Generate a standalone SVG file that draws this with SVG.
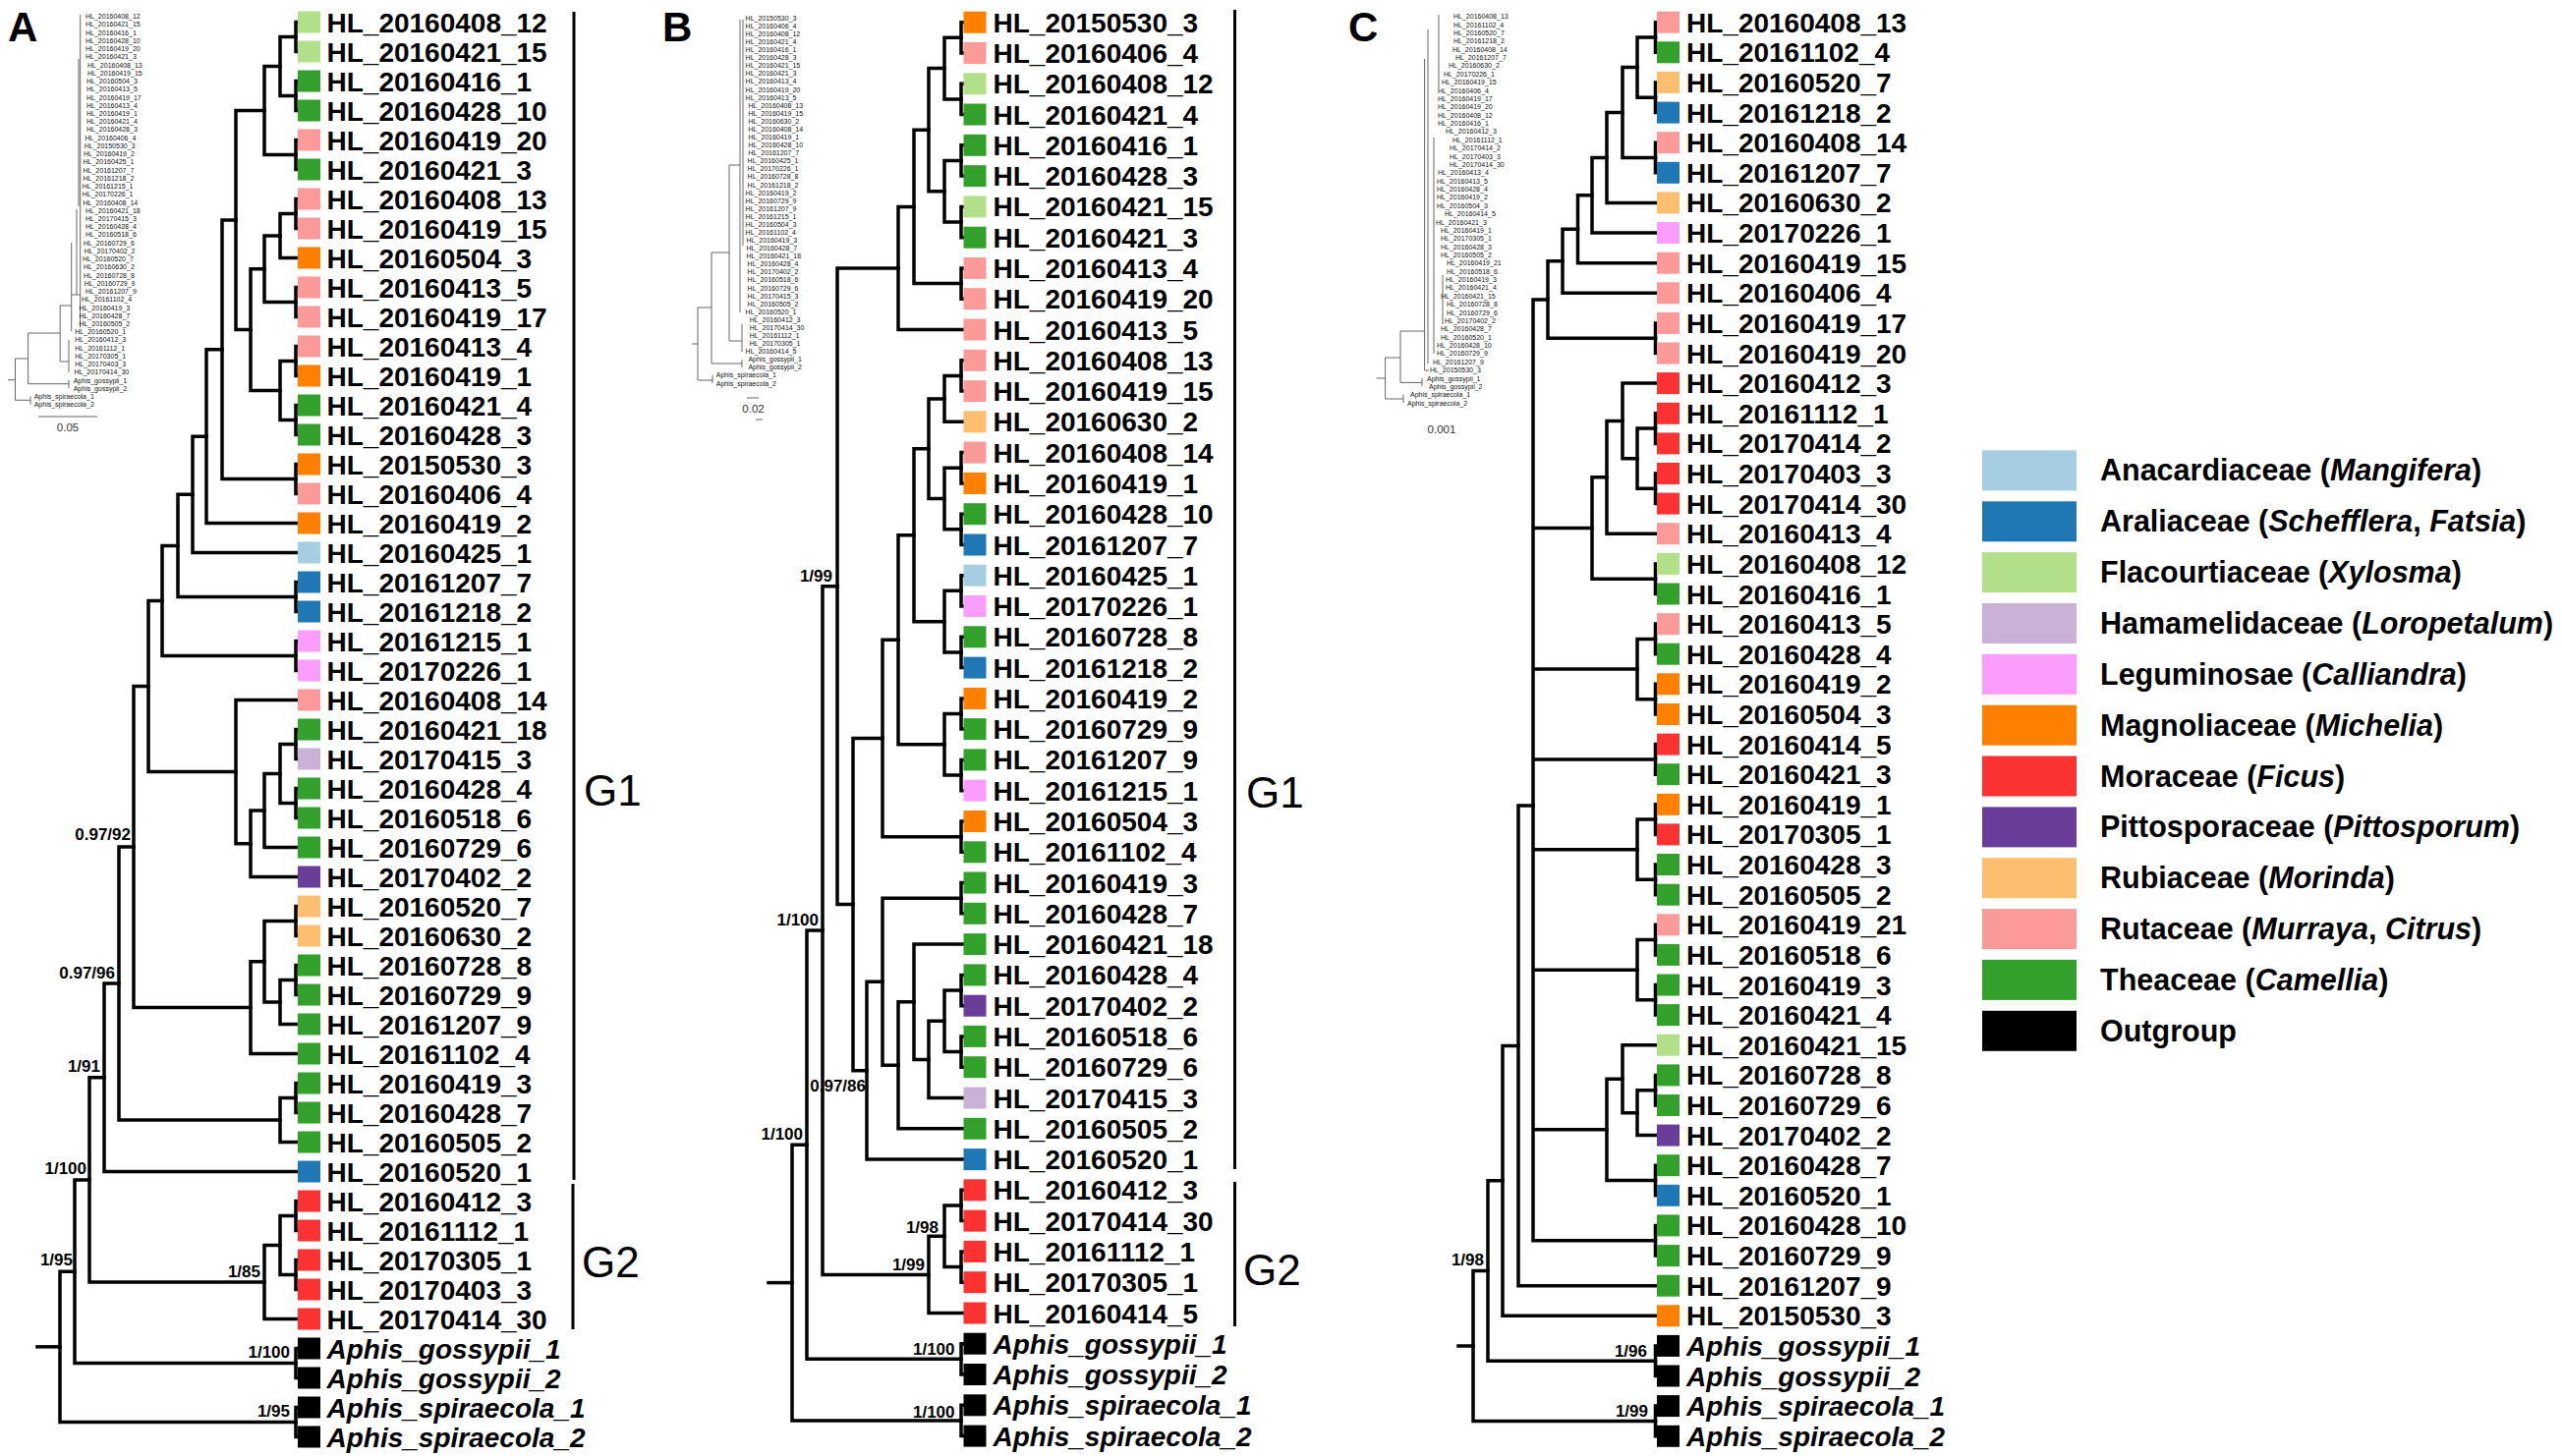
<svg xmlns="http://www.w3.org/2000/svg" width="2607" height="1482" viewBox="0 0 2607 1482">
<style>
text{font-family:"Liberation Sans",Arial,sans-serif}
.t{font-weight:bold;font-size:28px}
.i{font-style:italic}
.s{font-weight:bold;font-size:17px;text-anchor:end}
.g{font-size:44px}
.p{font-weight:bold;font-size:42px}
.n{font-size:7px;fill:#111}
.sc{font-size:11.5px;fill:#333;text-anchor:middle}
.lt{font-weight:bold;font-size:30.5px}
.br{fill:none;stroke:#000;stroke-width:3.5;stroke-linecap:square}
.bar{stroke:#000;stroke-width:3;fill:none}
.il{fill:none;stroke:#666;stroke-width:1}
.lb{fill:#a6cee3}.bl{fill:#1f78b4}.lg{fill:#b2df8a}.lv{fill:#cab2d6}.mg{fill:#fc9cfc}.or{fill:#ff7f00}.rd{fill:#fb3232}.pu{fill:#6a3d9a}.lo{fill:#fdbf6f}.pk{fill:#fb9a99}.gr{fill:#33a02c}.bk{fill:#000}
</style>
<defs>
<rect id="sq" width="23" height="22"/>
</defs>

<!-- ========== CONNECTORS ========== -->
<g id="connectors">
<g id="treeA-branches" class="br">
<path d="M303 22.5H301V52.5H303M303 82.5H301V112.5H303M303 142.5H301V172.5H303M303 202.5H301V232.5H303M303 292.5H301V322.5H303M303 352.5H301V382.5H303M303 412.5H301V442.5H303M303 472.5H301V502.5H303M303 592.5H301V622.5H303M303 652.5H301V682.5H303M303 742.5H301V772.5H303M303 802.5H301V832.5H303M303 922.5H301V952.5H303M303 982.5H301V1012.5H303M303 1102.5H301V1132.5H303M303 1222.5H301V1252.5H303M303 1282.5H301V1312.5H303M303 1372.5H301V1402.5H303M303 1432.5H301V1462.5H303"/>
<path d="M301 37.5H285V97.5H301"/>
<path d="M285 67.5H269V157.5H301"/>
<path d="M301 217.5H285V262.5H303"/>
<path d="M285 240H269V307.5H301"/>
<path d="M301 367.5H285V427.5H301"/>
<path d="M269 273.75H255V397.5H285"/>
<path d="M269 112.5H240V335.6H255"/>
<path d="M240 224.1H226V487.5H301"/>
<path d="M226 355.8H210V532.5H303"/>
<path d="M210 444.2H196V562.5H303"/>
<path d="M196 503.3H181V607.5H301"/>
<path d="M181 555.4H165V667.5H301"/>
<path d="M301 757.5H285V817.5H301"/>
<path d="M285 787.5H269V862.5H303"/>
<path d="M269 825H255V892.5H303"/>
<path d="M303 712.5H240V858.75H255"/>
<path d="M165 611.5H151V785.6H240"/>
<path d="M301 997.5H285V1042.5H303"/>
<path d="M301 937.5H269V1020H285"/>
<path d="M269 978.75H255V1072.5H303"/>
<path d="M151 698.6H136V1025.6H255"/>
<path d="M301 1117.5H285V1162.5H303"/>
<path d="M136 862.1H121V1140H285"/>
<path d="M121 1001H106V1192.5H303"/>
<path d="M301 1237.5H285V1297.5H301"/>
<path d="M285 1267.5H269V1342.5H303"/>
<path d="M106 1096.8H91V1305H269"/>
<path d="M91 1200.9H76V1387.5H301"/>
<path d="M76 1294.2H61V1447.5H301"/>
<path d="M38 1370.85H61"/>
</g>
<g id="treeB-branches" class="br">
<path d="M980.5 22.7H978V54H980.5M980.5 85.3H978V116.5H980.5M980.5 147.8H978V179.1H980.5M980.5 210.4H978V241.7H980.5M980.5 272.9H978V304.2H980.5M980.5 366.8H978V398.1H980.5M980.5 460.6H978V491.9H980.5M980.5 523.2H978V554.5H980.5M980.5 585.7H978V617H980.5M980.5 648.3H978V679.6H980.5M980.5 710.9H978V742.1H980.5M980.5 773.4H978V804.7H980.5M980.5 836H978V867.3H980.5M980.5 898.5H978V929.8H980.5M980.5 992.4H978V1023.7H980.5M980.5 1054.9H978V1086.2H980.5M980.5 1211.3H978V1242.6H980.5M980.5 1273.9H978V1305.2H980.5M980.5 1367.7H978V1399H980.5M980.5 1430.3H978V1461.6H980.5"/>
<path d="M978 38.35H961V100.9H978"/>
<path d="M978 163.45H961V226.05H978"/>
<path d="M961 69.6H945V194.75H961"/>
<path d="M945 132.2H930V288.55H978"/>
<path d="M930 210.4H914V335.5H980.5"/>
<path d="M978 382.45H961V429.3H980.5"/>
<path d="M978 476.25H961V538.85H978"/>
<path d="M961 405.9H945V507.55H961"/>
<path d="M978 601.35H961V663.95H978"/>
<path d="M945 456.7H930V632.65H961"/>
<path d="M978 726.5H961V789.05H978"/>
<path d="M930 544.7H914V757.8H961"/>
<path d="M914 651.25H898V851.65H978"/>
<path d="M978 1008.05H961V1070.55H978"/>
<path d="M961 1039.3H945V1117.5H980.5"/>
<path d="M980.5 961.1H930V1078.4H945"/>
<path d="M930 1019.75H914V1148.8H980.5"/>
<path d="M978 914.15H898V1084.3H914"/>
<path d="M898 999.2H882V1180.1H980.5"/>
<path d="M898 751.45H868V1089.65H882"/>
<path d="M914 273H852V920.55H868"/>
<path d="M978 1226.95H961V1289.55H978"/>
<path d="M961 1258.25H945V1336.5H980.5"/>
<path d="M852 596.8H837V1297.4H945"/>
<path d="M837 947.1H821V1383.35H978"/>
<path d="M821 1165.2H806V1445.95H978"/>
<path d="M782 1305.6H806"/>
</g>
<g id="treeC-branches" class="br">
<path d="M1686 22.7H1684.5V53.3H1686M1686 83.9H1684.5V114.6H1686M1686 145.2H1684.5V175.8H1686M1686 328.9H1684.5V359.5H1686M1686 420.8H1684.5V451.4H1686M1686 482H1684.5V512.6H1686M1686 573.9H1684.5V604.5H1686M1686 635.1H1684.5V665.7H1686M1686 696.3H1684.5V727H1686M1686 757.6H1684.5V788.2H1686M1686 818.8H1684.5V849.4H1686M1686 880H1684.5V910.7H1686M1686 941.3H1684.5V971.9H1686M1686 1002.5H1684.5V1033.1H1686M1686 1094.4H1684.5V1125H1686M1686 1186.2H1684.5V1216.8H1686M1686 1247.4H1684.5V1278.1H1686M1686 1369.9H1684.5V1400.5H1686M1686 1431.1H1684.5V1461.8H1686"/>
<path d="M1684.5 38H1666V99.25H1684.5"/>
<path d="M1666 68.6H1651V160.5H1684.5"/>
<path d="M1651 114.55H1635V206.4H1686"/>
<path d="M1635 160.5H1620V237H1686"/>
<path d="M1620 198.75H1605.5V267.7H1686"/>
<path d="M1605.5 233.2H1590V298.3H1686"/>
<path d="M1590 265.75H1575V344.2H1684.5"/>
<path d="M1684.5 436.1H1666V497.3H1684.5"/>
<path d="M1686 390.1H1651V466.7H1666"/>
<path d="M1651 428.4H1635V543.2H1686"/>
<path d="M1635 485.8H1620V589.2H1684.5"/>
<path d="M1684.5 650.4H1666V711.65H1684.5"/>
<path d="M1684.5 834.1H1666V895.35H1684.5"/>
<path d="M1684.5 956.6H1666V1017.8H1684.5"/>
<path d="M1684.5 1109.7H1666V1155.6H1686"/>
<path d="M1686 1063.7H1651V1132.65H1666"/>
<path d="M1651 1098.2H1635V1201.5H1684.5"/>
<path d="M1560 305V1262.75M1560 305H1575M1560 537.5H1620M1560 681H1666M1560 772.9H1684.5M1560 864.7H1666M1560 987.2H1666M1560 1149.85H1635M1560 1262.75H1684.5"/>
<path d="M1560 820.1H1545V1308.7H1686"/>
<path d="M1545 1064.4H1529V1339.3H1686"/>
<path d="M1529 1201.85H1514V1385.2H1684.5"/>
<path d="M1514 1293.5H1499V1446.45H1684.5"/>
<path d="M1484 1370H1499"/>
</g>
<g id="group-bars" class="bar">
<path d="M584 12V1201M583 1205V1353"/>
<path d="M1256.5 10V1190M1256.5 1203V1350"/>
</g>
</g>

<!-- ========== PANEL LETTERS, SUPPORT VALUES, GROUP LABELS ========== -->
<g id="panel-labels">
<text class="p" x="8" y="41.7">A</text>
<text class="p" x="674" y="41.7">B</text>
<text class="p" x="1372" y="41.7">C</text>
</g>
<g id="supportA">
<text class="s" x="133" y="855">0.97/92</text>
<text class="s" x="117" y="996">0.97/96</text>
<text class="s" x="102" y="1091">1/91</text>
<text class="s" x="88" y="1195">1/100</text>
<text class="s" x="74" y="1288">1/95</text>
<text class="s" x="265" y="1300">1/85</text>
<text class="s" x="295" y="1382">1/100</text>
<text class="s" x="295" y="1442">1/95</text>
</g>
<g id="supportB">
<text class="s" x="847" y="592">1/99</text>
<text class="s" x="833" y="942">1/100</text>
<text class="s" x="881" y="1111">0.97/86</text>
<text class="s" x="817" y="1160">1/100</text>
<text class="s" x="955" y="1255">1/98</text>
<text class="s" x="941" y="1293">1/99</text>
<text class="s" x="971.5" y="1379">1/100</text>
<text class="s" x="971.5" y="1443">1/100</text>
</g>
<g id="supportC">
<text class="s" x="1510" y="1288">1/98</text>
<text class="s" x="1676" y="1381">1/96</text>
<text class="s" x="1677" y="1442">1/99</text>
</g>
<g id="groups">
<text id="A-G1" class="g" x="594" y="820">G1</text>
<text id="A-G2" class="g" x="592" y="1300">G2</text>
<text id="B-G1" class="g" x="1268" y="822">G1</text>
<text id="B-G2" class="g" x="1265" y="1308">G2</text>
</g>

<!-- ========== PANEL A LEAVES ========== -->
<g id="leavesA">
<g id="A01"><use href="#sq" class="lg" x="303" y="11.5"/><text class="t" x="332.5" y="32.5">HL_20160408_12</text></g>
<g id="A02"><use href="#sq" class="lg" x="303" y="41.5"/><text class="t" x="332.5" y="62.5">HL_20160421_15</text></g>
<g id="A03"><use href="#sq" class="gr" x="303" y="71.5"/><text class="t" x="332.5" y="92.5">HL_20160416_1</text></g>
<g id="A04"><use href="#sq" class="gr" x="303" y="101.5"/><text class="t" x="332.5" y="122.5">HL_20160428_10</text></g>
<g id="A05"><use href="#sq" class="pk" x="303" y="131.5"/><text class="t" x="332.5" y="152.5">HL_20160419_20</text></g>
<g id="A06"><use href="#sq" class="gr" x="303" y="161.5"/><text class="t" x="332.5" y="182.5">HL_20160421_3</text></g>
<g id="A07"><use href="#sq" class="pk" x="303" y="191.5"/><text class="t" x="332.5" y="212.5">HL_20160408_13</text></g>
<g id="A08"><use href="#sq" class="pk" x="303" y="221.5"/><text class="t" x="332.5" y="242.5">HL_20160419_15</text></g>
<g id="A09"><use href="#sq" class="or" x="303" y="251.5"/><text class="t" x="332.5" y="272.5">HL_20160504_3</text></g>
<g id="A10"><use href="#sq" class="pk" x="303" y="281.5"/><text class="t" x="332.5" y="302.5">HL_20160413_5</text></g>
<g id="A11"><use href="#sq" class="pk" x="303" y="311.5"/><text class="t" x="332.5" y="332.5">HL_20160419_17</text></g>
<g id="A12"><use href="#sq" class="pk" x="303" y="341.5"/><text class="t" x="332.5" y="362.5">HL_20160413_4</text></g>
<g id="A13"><use href="#sq" class="or" x="303" y="371.5"/><text class="t" x="332.5" y="392.5">HL_20160419_1</text></g>
<g id="A14"><use href="#sq" class="gr" x="303" y="401.5"/><text class="t" x="332.5" y="422.5">HL_20160421_4</text></g>
<g id="A15"><use href="#sq" class="gr" x="303" y="431.5"/><text class="t" x="332.5" y="452.5">HL_20160428_3</text></g>
<g id="A16"><use href="#sq" class="or" x="303" y="461.5"/><text class="t" x="332.5" y="482.5">HL_20150530_3</text></g>
<g id="A17"><use href="#sq" class="pk" x="303" y="491.5"/><text class="t" x="332.5" y="512.5">HL_20160406_4</text></g>
<g id="A18"><use href="#sq" class="or" x="303" y="521.5"/><text class="t" x="332.5" y="542.5">HL_20160419_2</text></g>
<g id="A19"><use href="#sq" class="lb" x="303" y="551.5"/><text class="t" x="332.5" y="572.5">HL_20160425_1</text></g>
<g id="A20"><use href="#sq" class="bl" x="303" y="581.5"/><text class="t" x="332.5" y="602.5">HL_20161207_7</text></g>
<g id="A21"><use href="#sq" class="bl" x="303" y="611.5"/><text class="t" x="332.5" y="632.5">HL_20161218_2</text></g>
<g id="A22"><use href="#sq" class="mg" x="303" y="641.5"/><text class="t" x="332.5" y="662.5">HL_20161215_1</text></g>
<g id="A23"><use href="#sq" class="mg" x="303" y="671.5"/><text class="t" x="332.5" y="692.5">HL_20170226_1</text></g>
<g id="A24"><use href="#sq" class="pk" x="303" y="701.5"/><text class="t" x="332.5" y="722.5">HL_20160408_14</text></g>
<g id="A25"><use href="#sq" class="gr" x="303" y="731.5"/><text class="t" x="332.5" y="752.5">HL_20160421_18</text></g>
<g id="A26"><use href="#sq" class="lv" x="303" y="761.5"/><text class="t" x="332.5" y="782.5">HL_20170415_3</text></g>
<g id="A27"><use href="#sq" class="gr" x="303" y="791.5"/><text class="t" x="332.5" y="812.5">HL_20160428_4</text></g>
<g id="A28"><use href="#sq" class="gr" x="303" y="821.5"/><text class="t" x="332.5" y="842.5">HL_20160518_6</text></g>
<g id="A29"><use href="#sq" class="gr" x="303" y="851.5"/><text class="t" x="332.5" y="872.5">HL_20160729_6</text></g>
<g id="A30"><use href="#sq" class="pu" x="303" y="881.5"/><text class="t" x="332.5" y="902.5">HL_20170402_2</text></g>
<g id="A31"><use href="#sq" class="lo" x="303" y="911.5"/><text class="t" x="332.5" y="932.5">HL_20160520_7</text></g>
<g id="A32"><use href="#sq" class="lo" x="303" y="941.5"/><text class="t" x="332.5" y="962.5">HL_20160630_2</text></g>
<g id="A33"><use href="#sq" class="gr" x="303" y="971.5"/><text class="t" x="332.5" y="992.5">HL_20160728_8</text></g>
<g id="A34"><use href="#sq" class="gr" x="303" y="1001.5"/><text class="t" x="332.5" y="1022.5">HL_20160729_9</text></g>
<g id="A35"><use href="#sq" class="gr" x="303" y="1031.5"/><text class="t" x="332.5" y="1052.5">HL_20161207_9</text></g>
<g id="A36"><use href="#sq" class="gr" x="303" y="1061.5"/><text class="t" x="332.5" y="1082.5">HL_20161102_4</text></g>
<g id="A37"><use href="#sq" class="gr" x="303" y="1091.5"/><text class="t" x="332.5" y="1112.5">HL_20160419_3</text></g>
<g id="A38"><use href="#sq" class="gr" x="303" y="1121.5"/><text class="t" x="332.5" y="1142.5">HL_20160428_7</text></g>
<g id="A39"><use href="#sq" class="gr" x="303" y="1151.5"/><text class="t" x="332.5" y="1172.5">HL_20160505_2</text></g>
<g id="A40"><use href="#sq" class="bl" x="303" y="1181.5"/><text class="t" x="332.5" y="1202.5">HL_20160520_1</text></g>
<g id="A41"><use href="#sq" class="rd" x="303" y="1211.5"/><text class="t" x="332.5" y="1232.5">HL_20160412_3</text></g>
<g id="A42"><use href="#sq" class="rd" x="303" y="1241.5"/><text class="t" x="332.5" y="1262.5">HL_20161112_1</text></g>
<g id="A43"><use href="#sq" class="rd" x="303" y="1271.5"/><text class="t" x="332.5" y="1292.5">HL_20170305_1</text></g>
<g id="A44"><use href="#sq" class="rd" x="303" y="1301.5"/><text class="t" x="332.5" y="1322.5">HL_20170403_3</text></g>
<g id="A45"><use href="#sq" class="rd" x="303" y="1331.5"/><text class="t" x="332.5" y="1352.5">HL_20170414_30</text></g>
<g id="A46"><use href="#sq" class="bk" x="303" y="1361.5"/><text class="t i" x="332.5" y="1382.5">Aphis_gossypii_1</text></g>
<g id="A47"><use href="#sq" class="bk" x="303" y="1391.5"/><text class="t i" x="332.5" y="1412.5">Aphis_gossypii_2</text></g>
<g id="A48"><use href="#sq" class="bk" x="303" y="1421.5"/><text class="t i" x="332.5" y="1442.5">Aphis_spiraecola_1</text></g>
<g id="A49"><use href="#sq" class="bk" x="303" y="1451.5"/><text class="t i" x="332.5" y="1472.5">Aphis_spiraecola_2</text></g>
</g>

<!-- ========== PANEL B LEAVES ========== -->
<g id="leavesB">
<g id="B01"><use href="#sq" class="or" x="980.5" y="11.7"/><text class="t" x="1010.5" y="32.7">HL_20150530_3</text></g>
<g id="B02"><use href="#sq" class="pk" x="980.5" y="43"/><text class="t" x="1010.5" y="64">HL_20160406_4</text></g>
<g id="B03"><use href="#sq" class="lg" x="980.5" y="74.3"/><text class="t" x="1010.5" y="95.3">HL_20160408_12</text></g>
<g id="B04"><use href="#sq" class="gr" x="980.5" y="105.5"/><text class="t" x="1010.5" y="126.5">HL_20160421_4</text></g>
<g id="B05"><use href="#sq" class="gr" x="980.5" y="136.8"/><text class="t" x="1010.5" y="157.8">HL_20160416_1</text></g>
<g id="B06"><use href="#sq" class="gr" x="980.5" y="168.1"/><text class="t" x="1010.5" y="189.1">HL_20160428_3</text></g>
<g id="B07"><use href="#sq" class="lg" x="980.5" y="199.4"/><text class="t" x="1010.5" y="220.4">HL_20160421_15</text></g>
<g id="B08"><use href="#sq" class="gr" x="980.5" y="230.7"/><text class="t" x="1010.5" y="251.7">HL_20160421_3</text></g>
<g id="B09"><use href="#sq" class="pk" x="980.5" y="261.9"/><text class="t" x="1010.5" y="282.9">HL_20160413_4</text></g>
<g id="B10"><use href="#sq" class="pk" x="980.5" y="293.2"/><text class="t" x="1010.5" y="314.2">HL_20160419_20</text></g>
<g id="B11"><use href="#sq" class="pk" x="980.5" y="324.5"/><text class="t" x="1010.5" y="345.5">HL_20160413_5</text></g>
<g id="B12"><use href="#sq" class="pk" x="980.5" y="355.8"/><text class="t" x="1010.5" y="376.8">HL_20160408_13</text></g>
<g id="B13"><use href="#sq" class="pk" x="980.5" y="387.1"/><text class="t" x="1010.5" y="408.1">HL_20160419_15</text></g>
<g id="B14"><use href="#sq" class="lo" x="980.5" y="418.3"/><text class="t" x="1010.5" y="439.3">HL_20160630_2</text></g>
<g id="B15"><use href="#sq" class="pk" x="980.5" y="449.6"/><text class="t" x="1010.5" y="470.6">HL_20160408_14</text></g>
<g id="B16"><use href="#sq" class="or" x="980.5" y="480.9"/><text class="t" x="1010.5" y="501.9">HL_20160419_1</text></g>
<g id="B17"><use href="#sq" class="gr" x="980.5" y="512.2"/><text class="t" x="1010.5" y="533.2">HL_20160428_10</text></g>
<g id="B18"><use href="#sq" class="bl" x="980.5" y="543.5"/><text class="t" x="1010.5" y="564.5">HL_20161207_7</text></g>
<g id="B19"><use href="#sq" class="lb" x="980.5" y="574.7"/><text class="t" x="1010.5" y="595.7">HL_20160425_1</text></g>
<g id="B20"><use href="#sq" class="mg" x="980.5" y="606"/><text class="t" x="1010.5" y="627">HL_20170226_1</text></g>
<g id="B21"><use href="#sq" class="gr" x="980.5" y="637.3"/><text class="t" x="1010.5" y="658.3">HL_20160728_8</text></g>
<g id="B22"><use href="#sq" class="bl" x="980.5" y="668.6"/><text class="t" x="1010.5" y="689.6">HL_20161218_2</text></g>
<g id="B23"><use href="#sq" class="or" x="980.5" y="699.9"/><text class="t" x="1010.5" y="720.9">HL_20160419_2</text></g>
<g id="B24"><use href="#sq" class="gr" x="980.5" y="731.1"/><text class="t" x="1010.5" y="752.1">HL_20160729_9</text></g>
<g id="B25"><use href="#sq" class="gr" x="980.5" y="762.4"/><text class="t" x="1010.5" y="783.4">HL_20161207_9</text></g>
<g id="B26"><use href="#sq" class="mg" x="980.5" y="793.7"/><text class="t" x="1010.5" y="814.7">HL_20161215_1</text></g>
<g id="B27"><use href="#sq" class="or" x="980.5" y="825"/><text class="t" x="1010.5" y="846">HL_20160504_3</text></g>
<g id="B28"><use href="#sq" class="gr" x="980.5" y="856.3"/><text class="t" x="1010.5" y="877.3">HL_20161102_4</text></g>
<g id="B29"><use href="#sq" class="gr" x="980.5" y="887.5"/><text class="t" x="1010.5" y="908.5">HL_20160419_3</text></g>
<g id="B30"><use href="#sq" class="gr" x="980.5" y="918.8"/><text class="t" x="1010.5" y="939.8">HL_20160428_7</text></g>
<g id="B31"><use href="#sq" class="gr" x="980.5" y="950.1"/><text class="t" x="1010.5" y="971.1">HL_20160421_18</text></g>
<g id="B32"><use href="#sq" class="gr" x="980.5" y="981.4"/><text class="t" x="1010.5" y="1002.4">HL_20160428_4</text></g>
<g id="B33"><use href="#sq" class="pu" x="980.5" y="1012.7"/><text class="t" x="1010.5" y="1033.7">HL_20170402_2</text></g>
<g id="B34"><use href="#sq" class="gr" x="980.5" y="1043.9"/><text class="t" x="1010.5" y="1064.9">HL_20160518_6</text></g>
<g id="B35"><use href="#sq" class="gr" x="980.5" y="1075.2"/><text class="t" x="1010.5" y="1096.2">HL_20160729_6</text></g>
<g id="B36"><use href="#sq" class="lv" x="980.5" y="1106.5"/><text class="t" x="1010.5" y="1127.5">HL_20170415_3</text></g>
<g id="B37"><use href="#sq" class="gr" x="980.5" y="1137.8"/><text class="t" x="1010.5" y="1158.8">HL_20160505_2</text></g>
<g id="B38"><use href="#sq" class="bl" x="980.5" y="1169.1"/><text class="t" x="1010.5" y="1190.1">HL_20160520_1</text></g>
<g id="B39"><use href="#sq" class="rd" x="980.5" y="1200.3"/><text class="t" x="1010.5" y="1221.3">HL_20160412_3</text></g>
<g id="B40"><use href="#sq" class="rd" x="980.5" y="1231.6"/><text class="t" x="1010.5" y="1252.6">HL_20170414_30</text></g>
<g id="B41"><use href="#sq" class="rd" x="980.5" y="1262.9"/><text class="t" x="1010.5" y="1283.9">HL_20161112_1</text></g>
<g id="B42"><use href="#sq" class="rd" x="980.5" y="1294.2"/><text class="t" x="1010.5" y="1315.2">HL_20170305_1</text></g>
<g id="B43"><use href="#sq" class="rd" x="980.5" y="1325.5"/><text class="t" x="1010.5" y="1346.5">HL_20160414_5</text></g>
<g id="B44"><use href="#sq" class="bk" x="980.5" y="1356.7"/><text class="t i" x="1010.5" y="1377.7">Aphis_gossypii_1</text></g>
<g id="B45"><use href="#sq" class="bk" x="980.5" y="1388"/><text class="t i" x="1010.5" y="1409">Aphis_gossypii_2</text></g>
<g id="B46"><use href="#sq" class="bk" x="980.5" y="1419.3"/><text class="t i" x="1010.5" y="1440.3">Aphis_spiraecola_1</text></g>
<g id="B47"><use href="#sq" class="bk" x="980.5" y="1450.6"/><text class="t i" x="1010.5" y="1471.6">Aphis_spiraecola_2</text></g>
</g>

<!-- ========== PANEL C LEAVES ========== -->
<g id="leavesC">
<g id="C01"><use href="#sq" class="pk" x="1686" y="11.7"/><text class="t" x="1716" y="32.7">HL_20160408_13</text></g>
<g id="C02"><use href="#sq" class="gr" x="1686" y="42.3"/><text class="t" x="1716" y="63.3">HL_20161102_4</text></g>
<g id="C03"><use href="#sq" class="lo" x="1686" y="72.9"/><text class="t" x="1716" y="93.9">HL_20160520_7</text></g>
<g id="C04"><use href="#sq" class="bl" x="1686" y="103.6"/><text class="t" x="1716" y="124.6">HL_20161218_2</text></g>
<g id="C05"><use href="#sq" class="pk" x="1686" y="134.2"/><text class="t" x="1716" y="155.2">HL_20160408_14</text></g>
<g id="C06"><use href="#sq" class="bl" x="1686" y="164.8"/><text class="t" x="1716" y="185.8">HL_20161207_7</text></g>
<g id="C07"><use href="#sq" class="lo" x="1686" y="195.4"/><text class="t" x="1716" y="216.4">HL_20160630_2</text></g>
<g id="C08"><use href="#sq" class="mg" x="1686" y="226"/><text class="t" x="1716" y="247">HL_20170226_1</text></g>
<g id="C09"><use href="#sq" class="pk" x="1686" y="256.7"/><text class="t" x="1716" y="277.7">HL_20160419_15</text></g>
<g id="C10"><use href="#sq" class="pk" x="1686" y="287.3"/><text class="t" x="1716" y="308.3">HL_20160406_4</text></g>
<g id="C11"><use href="#sq" class="pk" x="1686" y="317.9"/><text class="t" x="1716" y="338.9">HL_20160419_17</text></g>
<g id="C12"><use href="#sq" class="pk" x="1686" y="348.5"/><text class="t" x="1716" y="369.5">HL_20160419_20</text></g>
<g id="C13"><use href="#sq" class="rd" x="1686" y="379.1"/><text class="t" x="1716" y="400.1">HL_20160412_3</text></g>
<g id="C14"><use href="#sq" class="rd" x="1686" y="409.8"/><text class="t" x="1716" y="430.8">HL_20161112_1</text></g>
<g id="C15"><use href="#sq" class="rd" x="1686" y="440.4"/><text class="t" x="1716" y="461.4">HL_20170414_2</text></g>
<g id="C16"><use href="#sq" class="rd" x="1686" y="471"/><text class="t" x="1716" y="492">HL_20170403_3</text></g>
<g id="C17"><use href="#sq" class="rd" x="1686" y="501.6"/><text class="t" x="1716" y="522.6">HL_20170414_30</text></g>
<g id="C18"><use href="#sq" class="pk" x="1686" y="532.2"/><text class="t" x="1716" y="553.2">HL_20160413_4</text></g>
<g id="C19"><use href="#sq" class="lg" x="1686" y="562.9"/><text class="t" x="1716" y="583.9">HL_20160408_12</text></g>
<g id="C20"><use href="#sq" class="gr" x="1686" y="593.5"/><text class="t" x="1716" y="614.5">HL_20160416_1</text></g>
<g id="C21"><use href="#sq" class="pk" x="1686" y="624.1"/><text class="t" x="1716" y="645.1">HL_20160413_5</text></g>
<g id="C22"><use href="#sq" class="gr" x="1686" y="654.7"/><text class="t" x="1716" y="675.7">HL_20160428_4</text></g>
<g id="C23"><use href="#sq" class="or" x="1686" y="685.3"/><text class="t" x="1716" y="706.3">HL_20160419_2</text></g>
<g id="C24"><use href="#sq" class="or" x="1686" y="716"/><text class="t" x="1716" y="737">HL_20160504_3</text></g>
<g id="C25"><use href="#sq" class="rd" x="1686" y="746.6"/><text class="t" x="1716" y="767.6">HL_20160414_5</text></g>
<g id="C26"><use href="#sq" class="gr" x="1686" y="777.2"/><text class="t" x="1716" y="798.2">HL_20160421_3</text></g>
<g id="C27"><use href="#sq" class="or" x="1686" y="807.8"/><text class="t" x="1716" y="828.8">HL_20160419_1</text></g>
<g id="C28"><use href="#sq" class="rd" x="1686" y="838.4"/><text class="t" x="1716" y="859.4">HL_20170305_1</text></g>
<g id="C29"><use href="#sq" class="gr" x="1686" y="869"/><text class="t" x="1716" y="890">HL_20160428_3</text></g>
<g id="C30"><use href="#sq" class="gr" x="1686" y="899.7"/><text class="t" x="1716" y="920.7">HL_20160505_2</text></g>
<g id="C31"><use href="#sq" class="pk" x="1686" y="930.3"/><text class="t" x="1716" y="951.3">HL_20160419_21</text></g>
<g id="C32"><use href="#sq" class="gr" x="1686" y="960.9"/><text class="t" x="1716" y="981.9">HL_20160518_6</text></g>
<g id="C33"><use href="#sq" class="gr" x="1686" y="991.5"/><text class="t" x="1716" y="1012.5">HL_20160419_3</text></g>
<g id="C34"><use href="#sq" class="gr" x="1686" y="1022.1"/><text class="t" x="1716" y="1043.1">HL_20160421_4</text></g>
<g id="C35"><use href="#sq" class="lg" x="1686" y="1052.7"/><text class="t" x="1716" y="1073.7">HL_20160421_15</text></g>
<g id="C36"><use href="#sq" class="gr" x="1686" y="1083.4"/><text class="t" x="1716" y="1104.4">HL_20160728_8</text></g>
<g id="C37"><use href="#sq" class="gr" x="1686" y="1114"/><text class="t" x="1716" y="1135">HL_20160729_6</text></g>
<g id="C38"><use href="#sq" class="pu" x="1686" y="1144.6"/><text class="t" x="1716" y="1165.6">HL_20170402_2</text></g>
<g id="C39"><use href="#sq" class="gr" x="1686" y="1175.2"/><text class="t" x="1716" y="1196.2">HL_20160428_7</text></g>
<g id="C40"><use href="#sq" class="bl" x="1686" y="1205.8"/><text class="t" x="1716" y="1226.8">HL_20160520_1</text></g>
<g id="C41"><use href="#sq" class="gr" x="1686" y="1236.4"/><text class="t" x="1716" y="1257.4">HL_20160428_10</text></g>
<g id="C42"><use href="#sq" class="gr" x="1686" y="1267.1"/><text class="t" x="1716" y="1288.1">HL_20160729_9</text></g>
<g id="C43"><use href="#sq" class="gr" x="1686" y="1297.7"/><text class="t" x="1716" y="1318.7">HL_20161207_9</text></g>
<g id="C44"><use href="#sq" class="or" x="1686" y="1328.3"/><text class="t" x="1716" y="1349.3">HL_20150530_3</text></g>
<g id="C45"><use href="#sq" class="bk" x="1686" y="1358.9"/><text class="t i" x="1716" y="1379.9">Aphis_gossypii_1</text></g>
<g id="C46"><use href="#sq" class="bk" x="1686" y="1389.5"/><text class="t i" x="1716" y="1410.5">Aphis_gossypii_2</text></g>
<g id="C47"><use href="#sq" class="bk" x="1686" y="1420.1"/><text class="t i" x="1716" y="1441.1">Aphis_spiraecola_1</text></g>
<g id="C48"><use href="#sq" class="bk" x="1686" y="1450.8"/><text class="t i" x="1716" y="1471.8">Aphis_spiraecola_2</text></g>
</g>

<!-- ========== INSET TREES ========== -->
<g id="insetA">
<path class="il" d="M8 386.7H15.5M15.5 365V407.3M15.5 407.3H31M31 403.5V411.7M15.5 365H28.6M28.6 339V390.7M28.6 390.7H70M70 387V395.3M28.6 339H61.2M61.2 311V368M61.2 368H70M70 346V379M61.2 311H72.7M72.7 247V337M72.7 300H81.7M81.7 15V333M78 213V300M80 60V210"/>
<path class="il" d="M39 424H99"/>
<text class="sc" x="69" y="439">0.05</text>
<g class="n">
<text x="87" y="19.2">HL_20160408_12</text><text x="87" y="27.4">HL_20160421_15</text><text x="87" y="35.7">HL_20160416_1</text><text x="87" y="43.9">HL_20160428_10</text><text x="87" y="52.1">HL_20160419_20</text><text x="87" y="60.4">HL_20160421_3</text><text x="89" y="68.6">HL_20160408_13</text><text x="89" y="76.8">HL_20160419_15</text><text x="88" y="85">HL_20160504_3</text><text x="88" y="93.3">HL_20160413_5</text><text x="88" y="101.5">HL_20160419_17</text><text x="88" y="109.7">HL_20160413_4</text><text x="88" y="118">HL_20160419_1</text><text x="88" y="126.2">HL_20160421_4</text><text x="88" y="134.4">HL_20160428_3</text><text x="86.5" y="142.7">HL_20160406_4</text><text x="85.7" y="150.9">HL_20150530_3</text><text x="85" y="159.1">HL_20160419_2</text><text x="84.5" y="167.3">HL_20160425_1</text><text x="84.5" y="175.6">HL_20161207_7</text><text x="84.5" y="183.8">HL_20161218_2</text><text x="83.7" y="192">HL_20161215_1</text><text x="83.7" y="200.3">HL_20170226_1</text><text x="84.5" y="208.5">HL_20160408_14</text><text x="87" y="216.7">HL_20160421_18</text><text x="87" y="224.9">HL_20170415_3</text><text x="87" y="233.2">HL_20160428_4</text><text x="87" y="241.4">HL_20160518_6</text><text x="85" y="249.6">HL_20160729_6</text><text x="85.7" y="257.9">HL_20170402_2</text><text x="84" y="266.1">HL_20160520_7</text><text x="85" y="274.3">HL_20160630_2</text><text x="85" y="282.6">HL_20160728_8</text><text x="85.7" y="290.8">HL_20160729_9</text><text x="87" y="299">HL_20161207_9</text><text x="82.9" y="307.3">HL_20161102_4</text><text x="80.4" y="315.5">HL_20160419_3</text><text x="80.4" y="323.7">HL_20160428_7</text><text x="80.4" y="331.9">HL_20160505_2</text><text x="76.3" y="340.2">HL_20160520_1</text><text x="76.3" y="348.4">HL_20160412_3</text><text x="76.3" y="356.6">HL_20161112_1</text><text x="76.3" y="364.9">HL_20170305_1</text><text x="76.3" y="373.1">HL_20170403_3</text><text x="75.5" y="381.3">HL_20170414_30</text><text x="74.7" y="389.6">Aphis_gossypii_1</text><text x="74.7" y="397.8">Aphis_gossypii_2</text><text x="34.7" y="406">Aphis_spiraecola_1</text><text x="34.7" y="414.2">Aphis_spiraecola_2</text>
</g>
</g>

<g id="insetB">
<path class="il" d="M704 350H710M710 313V387M710 387H725M725 382V390M710 313H724M724 257V370M724 370H755M755 366V374M724 257H742M742 168V347M742 347H755M755 330V358M742 168H753M753 20V318M756 20V250"/>
<path class="il" d="M760 405H772M769 427H776"/>
<text class="sc" x="766.5" y="419.5">0.02</text>
<g class="n">
<text x="758.6" y="20.8">HL_20150530_3</text><text x="758.6" y="28.9">HL_20160406_4</text><text x="758.6" y="37">HL_20160408_12</text><text x="758.6" y="45">HL_20160421_4</text><text x="758.6" y="53.1">HL_20160416_1</text><text x="758.6" y="61.2">HL_20160428_3</text><text x="758.6" y="69.3">HL_20160421_15</text><text x="758.6" y="77.4">HL_20160421_3</text><text x="758.6" y="85.4">HL_20160413_4</text><text x="758.6" y="93.5">HL_20160419_20</text><text x="758.6" y="101.6">HL_20160413_5</text><text x="761.4" y="109.7">HL_20160408_13</text><text x="761.4" y="117.8">HL_20160419_15</text><text x="761.4" y="125.8">HL_20160630_2</text><text x="761.4" y="133.9">HL_20160408_14</text><text x="761.4" y="142">HL_20160419_1</text><text x="761.4" y="150.1">HL_20160428_10</text><text x="761.4" y="158.2">HL_20161207_7</text><text x="760.6" y="166.2">HL_20160425_1</text><text x="760.6" y="174.3">HL_20170226_1</text><text x="760.6" y="182.4">HL_20160728_8</text><text x="760.6" y="190.5">HL_20161218_2</text><text x="758.6" y="198.6">HL_20160419_2</text><text x="758.6" y="206.6">HL_20160729_9</text><text x="758.6" y="214.7">HL_20161207_9</text><text x="758.6" y="222.8">HL_20161215_1</text><text x="758.6" y="230.9">HL_20160504_3</text><text x="758.6" y="239">HL_20161102_4</text><text x="759.4" y="247">HL_20160419_3</text><text x="759.4" y="255.1">HL_20160428_7</text><text x="759.4" y="263.2">HL_20160421_18</text><text x="760.6" y="271.3">HL_20160428_4</text><text x="760.6" y="279.4">HL_20170402_2</text><text x="760.6" y="287.4">HL_20160518_6</text><text x="760.6" y="295.5">HL_20160729_6</text><text x="760.6" y="303.6">HL_20170415_3</text><text x="760.6" y="311.7">HL_20160505_2</text><text x="758.6" y="319.8">HL_20160520_1</text><text x="762.7" y="327.8">HL_20160412_3</text><text x="762.7" y="335.9">HL_20170414_30</text><text x="762.7" y="344">HL_20161112_1</text><text x="762.7" y="352.1">HL_20170305_1</text><text x="758.6" y="360.2">HL_20160414_5</text><text x="761.4" y="368.2">Aphis_gossypii_1</text><text x="761.4" y="376.3">Aphis_gossypii_2</text><text x="728.8" y="384.4">Aphis_spiraecola_1</text><text x="728.8" y="392.5">Aphis_spiraecola_2</text>
</g>
</g>

<g id="insetC">
<path class="il" d="M1400.6 385H1409.6M1409.6 364V406M1409.6 406H1428M1428 401.7V410.1M1409.6 364H1425M1425 337V389.4M1425 389.4H1447M1447 385V393.3M1425 337H1449.6M1449.6 60V377M1449.6 377H1454M1453 30V370M1459 140V360M1464 15V90M1468 280V330"/>
<text class="sc" x="1467" y="441">0.001</text>
<g class="n">
<text x="1479" y="19.2">HL_20160408_13</text><text x="1479" y="27.6">HL_20161102_4</text><text x="1479" y="35.9">HL_20160520_7</text><text x="1479" y="44.3">HL_20161218_2</text><text x="1478" y="52.7">HL_20160408_14</text><text x="1481" y="61.1">HL_20161207_7</text><text x="1474" y="69.4">HL_20160630_2</text><text x="1469" y="77.8">HL_20170226_1</text><text x="1467" y="86.2">HL_20160419_15</text><text x="1463" y="94.5">HL_20160406_4</text><text x="1463" y="102.9">HL_20160419_17</text><text x="1463" y="111.3">HL_20160419_20</text><text x="1463" y="119.6">HL_20160408_12</text><text x="1463" y="128">HL_20160416_1</text><text x="1471" y="136.4">HL_20160412_3</text><text x="1478" y="144.8">HL_20161112_1</text><text x="1475" y="153.1">HL_20170414_2</text><text x="1475" y="161.5">HL_20170403_3</text><text x="1475" y="169.9">HL_20170414_30</text><text x="1463" y="178.2">HL_20160413_4</text><text x="1462" y="186.6">HL_20160413_5</text><text x="1462" y="195">HL_20160428_4</text><text x="1462" y="203.3">HL_20160419_2</text><text x="1462" y="211.7">HL_20160504_3</text><text x="1470" y="220.1">HL_20160414_5</text><text x="1461" y="228.5">HL_20160421_3</text><text x="1466" y="236.8">HL_20160419_1</text><text x="1466" y="245.2">HL_20170305_1</text><text x="1466" y="253.6">HL_20160428_3</text><text x="1466" y="261.9">HL_20160505_2</text><text x="1472" y="270.3">HL_20160419_21</text><text x="1472" y="278.7">HL_20160518_6</text><text x="1471" y="287">HL_20160419_3</text><text x="1471" y="295.4">HL_20160421_4</text><text x="1466" y="303.8">HL_20160421_15</text><text x="1472" y="312.2">HL_20160728_8</text><text x="1472" y="320.5">HL_20160729_6</text><text x="1470" y="328.9">HL_20170402_2</text><text x="1466" y="337.3">HL_20160428_7</text><text x="1466" y="345.6">HL_20160520_1</text><text x="1462" y="354">HL_20160428_10</text><text x="1462" y="362.4">HL_20160729_9</text><text x="1458" y="370.7">HL_20161207_9</text><text x="1455" y="379.1">HL_20150530_3</text><text x="1452" y="387.5">Aphis_gossypii_1</text><text x="1454" y="395.9">Aphis_gossypii_2</text><text x="1435" y="404.2">Aphis_spiraecola_1</text><text x="1432" y="412.6">Aphis_spiraecola_2</text>
</g>
</g>

<!-- ========== LEGEND ========== -->
<g id="legend">
<g id="lg01"><rect class="lb" x="2017" y="458.4" width="96" height="41"/><text class="lt" x="2137" y="489.4">Anacardiaceae (<tspan class="i">Mangifera</tspan>)</text></g>
<g id="lg02"><rect class="bl" x="2017" y="510.3" width="96" height="41"/><text class="lt" x="2137" y="541.3">Araliaceae (<tspan class="i">Schefflera</tspan>, <tspan class="i">Fatsia</tspan>)</text></g>
<g id="lg03"><rect class="lg" x="2017" y="562.1" width="96" height="41"/><text class="lt" x="2137" y="593.1">Flacourtiaceae (<tspan class="i">Xylosma</tspan>)</text></g>
<g id="lg04"><rect class="lv" x="2017" y="614" width="96" height="41"/><text class="lt" x="2137" y="645">Hamamelidaceae (<tspan class="i">Loropetalum</tspan>)</text></g>
<g id="lg05"><rect class="mg" x="2017" y="665.8" width="96" height="41"/><text class="lt" x="2137" y="696.8">Leguminosae (<tspan class="i">Calliandra</tspan>)</text></g>
<g id="lg06"><rect class="or" x="2017" y="717.7" width="96" height="41"/><text class="lt" x="2137" y="748.7">Magnoliaceae (<tspan class="i">Michelia</tspan>)</text></g>
<g id="lg07"><rect class="rd" x="2017" y="769.5" width="96" height="41"/><text class="lt" x="2137" y="800.5">Moraceae (<tspan class="i">Ficus</tspan>)</text></g>
<g id="lg08"><rect class="pu" x="2017" y="821.4" width="96" height="41"/><text class="lt" x="2137" y="852.4">Pittosporaceae (<tspan class="i">Pittosporum</tspan>)</text></g>
<g id="lg09"><rect class="lo" x="2017" y="873.2" width="96" height="41"/><text class="lt" x="2137" y="904.2">Rubiaceae (<tspan class="i">Morinda</tspan>)</text></g>
<g id="lg10"><rect class="pk" x="2017" y="925.1" width="96" height="41"/><text class="lt" x="2137" y="956.1">Rutaceae (<tspan class="i">Murraya</tspan>, <tspan class="i">Citrus</tspan>)</text></g>
<g id="lg11"><rect class="gr" x="2017" y="976.9" width="96" height="41"/><text class="lt" x="2137" y="1007.9">Theaceae (<tspan class="i">Camellia</tspan>)</text></g>
<g id="lg12"><rect class="bk" x="2017" y="1028.8" width="96" height="41"/><text class="lt" x="2137" y="1059.8">Outgroup</text></g>
</g>
</svg>
